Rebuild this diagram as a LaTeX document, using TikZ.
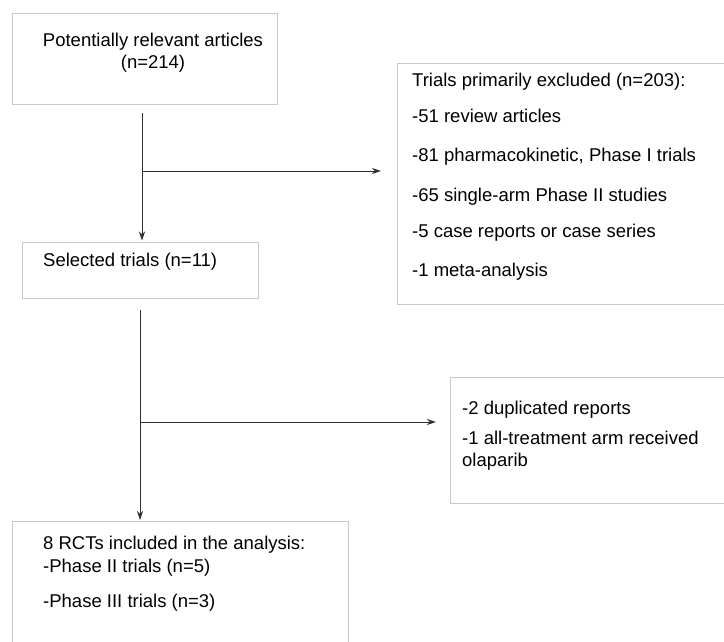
\documentclass[tikz,border=0pt]{standalone}
\usepackage{fontspec}
\setmainfont{Liberation Sans}
\usetikzlibrary{arrows.meta}
\definecolor{boxgray}{HTML}{C8C8C8}
\definecolor{linegray}{HTML}{303030}
\begin{document}
\begin{tikzpicture}[x=1pt,y=-1pt,
 box/.style={draw=boxgray, line width=0.9pt, anchor=north west, inner sep=0pt},
 txt/.style={anchor=west, inner sep=0pt, font=\fontsize{18.5}{22}\selectfont, text height=13pt, text depth=4pt},
 ctxt/.style={txt, anchor=center},
 arr/.style={draw=linegray, line width=1pt, -{Stealth[length=9pt,width=6pt]}}]
\useasboundingbox (0,0) rectangle (724,641);
\clip (0,0) rectangle (724,641);
% boxes
\node[box, minimum width=265pt, minimum height=91pt] (b1) at (12,13) {};
\node[box, minimum width=340pt, minimum height=241pt] (rb1) at (397,63) {};
\node[box, minimum width=236pt, minimum height=56pt] (b2) at (22,242) {};
\node[box, minimum width=320pt, minimum height=126pt] (rb2) at (450,377) {};
\node[box, minimum width=336pt, minimum height=140pt] (b3) at (12,521) {};
% texts
\node[ctxt] (t1a) at (153,42) {Potentially relevant articles};
\node[ctxt] (t1b) at (153,64) {(n=214)};
\node[txt] (e0) at (412,82) {Trials primarily excluded (n=203):};
\node[txt] (e1) at (412,118) {-51 review articles};
\node[txt] (e2) at (412,157) {-81 pharmacokinetic, Phase I trials};
\node[txt] (e3) at (412,197) {-65 single-arm Phase II studies};
\node[txt] (e4) at (412,233) {-5 case reports or case series};
\node[txt] (e5) at (412,272) {-1 meta-analysis};
\node[txt] (t2) at (43,262) {Selected trials (n=11)};
\node[txt] (f1) at (462,410) {-2 duplicated reports};
\node[txt] (f2) at (462,440) {-1 all-treatment arm received};
\node[txt] (f3) at (462,462) {olaparib};
\node[txt] (g1) at (43,545) {8 RCTs included in the analysis:};
\node[txt] (g2) at (43,568) {-Phase II trials (n=5)};
\node[txt] (g3) at (43,603) {-Phase III trials (n=3)};
% connectors
\coordinate (s1) at (142,113);
\coordinate (j1) at (142,171);
\coordinate (s2) at (140,310);
\coordinate (j2) at (140,422);
\draw[arr, shorten >=1.5pt] (s1) -- (s1 |- b2.north);
\draw[arr, shorten >=16pt] (j1) -- (j1 -| rb1.west);
\draw[arr, shorten >=1pt] (s2) -- (s2 |- b3.north);
\draw[arr, shorten >=14pt] (j2) -- (j2 -| rb2.west);
\end{tikzpicture}
\end{document}
